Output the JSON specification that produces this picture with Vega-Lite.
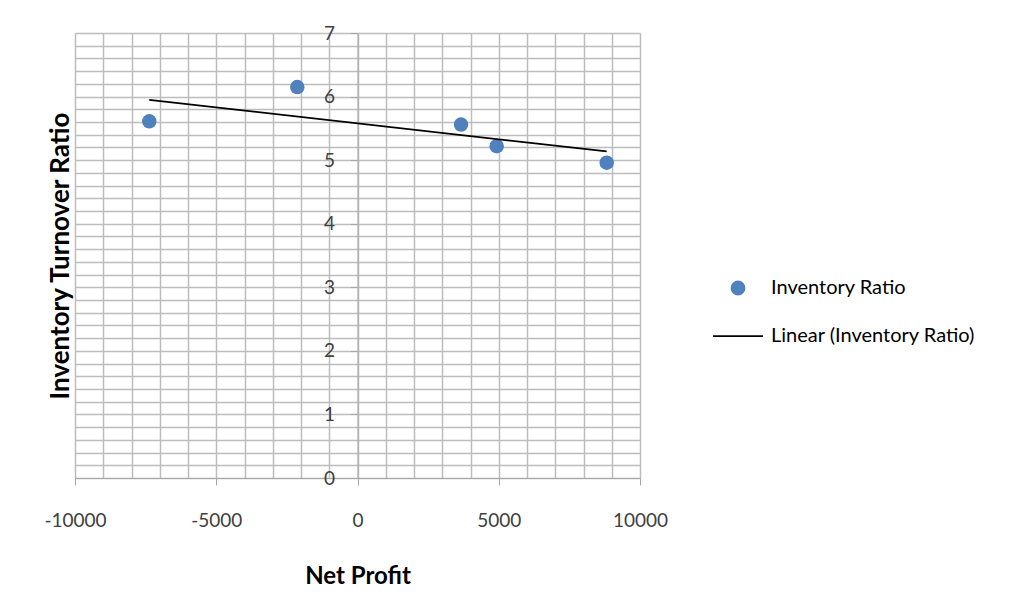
{
  "$schema": "https://vega.github.io/schema/vega-lite/v6.json",
  "width": 565,
  "height": 445,
  "autosize": "none",
  "padding": {"left": 75, "top": 33, "right": 379, "bottom": 135},
  "background": "white",
  "config": {
    "font": "Lato",
    "view": {"stroke": null},
    "axis": {"labelFont": "Lato", "titleFont": "Lato"}
  },
  "data": {
    "values": [
      {"net_profit": -7370, "ratio": 5.61},
      {"net_profit": -2131, "ratio": 6.15},
      {"net_profit": 3664, "ratio": 5.56},
      {"net_profit": 4927, "ratio": 5.22},
      {"net_profit": 8821, "ratio": 4.96}
    ]
  },
  "layer": [
    {
      "mark": {"type": "point", "filled": true, "size": 210, "opacity": 1},
      "encoding": {
        "x": {
          "field": "net_profit",
          "type": "quantitative",
          "scale": {"domain": [-10000, 10000], "nice": false, "zero": false},
          "axis": {
            "title": "Net Profit",
            "titleFontSize": 24,
            "titleFontWeight": "bold",
            "titleColor": "black",
            "titlePadding": 34,
            "tickCount": 200,
            "values": [-10000,-9000,-8000,-7000,-6000,-5000,-4000,-3000,-2000,-1000,0,1000,2000,3000,4000,5000,6000,7000,8000,9000,10000],
            "labelExpr": "datum.value % 5000 === 0 ? toString(datum.value) : ''",
            "labelFontSize": 19,
            "labelColor": "#404040",
            "labelPadding": 26,
            "labelFlush": false,
            "labelOverlap": false,
            "tickSize": 7,
            "tickColor": "#a6a6a6",
            "tickOpacity": {"expr": "datum.value % 5000 === 0 ? 1 : 0"},
            "domainColor": "#a6a6a6",
            "grid": true,
            "gridColor": "#bdbdbd",
            "gridWidth": 1.5
          }
        },
        "y": {
          "field": "ratio",
          "type": "quantitative",
          "scale": {"domain": [0, 7], "nice": false, "zero": true},
          "axis": {
            "title": "Inventory Turnover Ratio",
            "titleFontSize": 26,
            "titleFontWeight": "bold",
            "titleColor": "black",
            "titleX": -284,
            "tickCount": 200,
            "values": [0,0.2,0.4,0.6,0.8,1,1.2,1.4,1.6,1.8,2,2.2,2.4,2.6,2.8,3,3.2,3.4,3.6,3.8,4,4.2,4.4,4.6,4.8,5,5.2,5.4,5.6,5.8,6,6.2,6.4,6.6,6.8,7],
            "labelExpr": "round(datum.value * 10) % 10 === 0 ? toString(round(datum.value)) : ''",
            "offset": -282.5,
            "labelFontSize": 19,
            "labelColor": "#404040",
            "labelPadding": 16,
            "labelFlush": false,
            "labelOverlap": false,
            "tickSize": 7,
            "tickColor": "#a6a6a6",
            "tickOpacity": {"expr": "round(datum.value * 10) % 10 === 0 ? 1 : 0"},
            "domainColor": "#a6a6a6",
            "grid": true,
            "gridColor": "#bdbdbd",
            "gridWidth": 1.5
          }
        },
        "color": {
          "datum": "Inventory Ratio",
          "type": "nominal",
          "scale": {"domain": ["Inventory Ratio", "Linear (Inventory Ratio)"], "range": ["#4f81bd", "black"]},
          "legend": {
            "title": null,
            "orient": "none",
            "legendX": 637,
            "legendY": 229,
            "symbolSize": 2500,
            "labelFontSize": 20,
            "labelColor": "black",
            "labelOffset": 7,
            "labelLimit": 400,
            "rowPadding": 11,
            "encode": {
              "symbols": {
                "update": {
                  "shape": {"signal": "datum.value === 'Inventory Ratio' ? 'circle' : 'stroke'"},
                  "size": {"signal": "datum.value === 'Inventory Ratio' ? 170 : 2500"},
                  "fill": {"signal": "datum.value === 'Inventory Ratio' ? '#4f81bd' : 'transparent'"},
                  "stroke": {"signal": "datum.value === 'Inventory Ratio' ? 'transparent' : 'black'"},
                  "strokeWidth": {"value": 1.75},
                  "opacity": {"value": 1}
                }
              }
            }
          }
        }
      }
    },
    {
      "transform": [{"regression": "ratio", "on": "net_profit"}],
      "mark": {"type": "line", "strokeWidth": 1.75},
      "encoding": {
        "x": {"field": "net_profit", "type": "quantitative"},
        "y": {"field": "ratio", "type": "quantitative"},
        "color": {
          "datum": "Linear (Inventory Ratio)",
          "type": "nominal",
          "legend": {
            "title": null,
            "orient": "none",
            "legendX": 637,
            "legendY": 229,
            "symbolSize": 2500,
            "labelFontSize": 20,
            "labelColor": "black",
            "labelOffset": 7,
            "labelLimit": 400,
            "rowPadding": 11,
            "encode": {
              "symbols": {
                "update": {
                  "shape": {"signal": "datum.value === 'Inventory Ratio' ? 'circle' : 'stroke'"},
                  "size": {"signal": "datum.value === 'Inventory Ratio' ? 170 : 2500"},
                  "fill": {"signal": "datum.value === 'Inventory Ratio' ? '#4f81bd' : 'transparent'"},
                  "stroke": {"signal": "datum.value === 'Inventory Ratio' ? 'transparent' : 'black'"},
                  "strokeWidth": {"value": 1.75},
                  "opacity": {"value": 1}
                }
              }
            }
          }
        }
      }
    }
  ]
}
